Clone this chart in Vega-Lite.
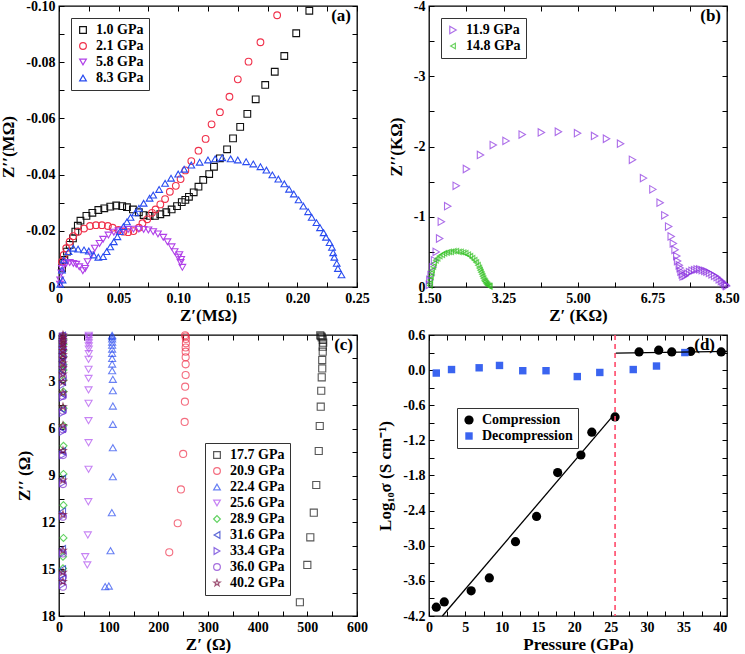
{
  "$schema": "https://vega.github.io/schema/vega-lite/v6.json",
  "padding": {"left": -1, "top": -2, "right": 5, "bottom": 0},
  "background": "white",
  "datasets": {
    "a": [
      {"p":"1.0 GPa","x":0.0025,"y":-0.0066},{"p":"1.0 GPa","x":0.0045,"y":-0.0096},{"p":"1.0 GPa","x":0.0067,"y":-0.0126},{"p":"1.0 GPa","x":0.009,"y":-0.015},{"p":"1.0 GPa","x":0.0117,"y":-0.0173},{"p":"1.0 GPa","x":0.0137,"y":-0.0197},{"p":"1.0 GPa","x":0.0158,"y":-0.0218},{"p":"1.0 GPa","x":0.018,"y":-0.0236},{"p":"1.0 GPa","x":0.023,"y":-0.0253},{"p":"1.0 GPa","x":0.028,"y":-0.0264},{"p":"1.0 GPa","x":0.033,"y":-0.0274},{"p":"1.0 GPa","x":0.038,"y":-0.028},{"p":"1.0 GPa","x":0.043,"y":-0.0286},{"p":"1.0 GPa","x":0.048,"y":-0.029},{"p":"1.0 GPa","x":0.053,"y":-0.0288},{"p":"1.0 GPa","x":0.057,"y":-0.0284},{"p":"1.0 GPa","x":0.062,"y":-0.0276},{"p":"1.0 GPa","x":0.067,"y":-0.0266},{"p":"1.0 GPa","x":0.071,"y":-0.0256},{"p":"1.0 GPa","x":0.076,"y":-0.0253},{"p":"1.0 GPa","x":0.0805,"y":-0.0253},{"p":"1.0 GPa","x":0.085,"y":-0.0259},{"p":"1.0 GPa","x":0.09,"y":-0.0266},{"p":"1.0 GPa","x":0.0945,"y":-0.0276},{"p":"1.0 GPa","x":0.099,"y":-0.0288},{"p":"1.0 GPa","x":0.103,"y":-0.0302},{"p":"1.0 GPa","x":0.106,"y":-0.031},{"p":"1.0 GPa","x":0.109,"y":-0.0321},{"p":"1.0 GPa","x":0.113,"y":-0.0337},{"p":"1.0 GPa","x":0.117,"y":-0.0357},{"p":"1.0 GPa","x":0.121,"y":-0.0381},{"p":"1.0 GPa","x":0.126,"y":-0.0402},{"p":"1.0 GPa","x":0.13,"y":-0.0428},{"p":"1.0 GPa","x":0.135,"y":-0.0458},{"p":"1.0 GPa","x":0.141,"y":-0.049},{"p":"1.0 GPa","x":0.146,"y":-0.0529},{"p":"1.0 GPa","x":0.152,"y":-0.057},{"p":"1.0 GPa","x":0.158,"y":-0.0616},{"p":"1.0 GPa","x":0.165,"y":-0.0668},{"p":"1.0 GPa","x":0.173,"y":-0.0719},{"p":"1.0 GPa","x":0.181,"y":-0.0766},{"p":"1.0 GPa","x":0.189,"y":-0.0822},{"p":"1.0 GPa","x":0.199,"y":-0.0903},{"p":"1.0 GPa","x":0.21,"y":-0.0983},
      {"p":"2.1 GPa","x":0.0025,"y":-0.009},{"p":"2.1 GPa","x":0.004,"y":-0.0114},{"p":"2.1 GPa","x":0.006,"y":-0.0138},{"p":"2.1 GPa","x":0.009,"y":-0.0161},{"p":"2.1 GPa","x":0.012,"y":-0.0181},{"p":"2.1 GPa","x":0.016,"y":-0.0197},{"p":"2.1 GPa","x":0.021,"y":-0.0208},{"p":"2.1 GPa","x":0.026,"y":-0.0217},{"p":"2.1 GPa","x":0.031,"y":-0.022},{"p":"2.1 GPa","x":0.036,"y":-0.022},{"p":"2.1 GPa","x":0.041,"y":-0.0217},{"p":"2.1 GPa","x":0.045,"y":-0.0211},{"p":"2.1 GPa","x":0.05,"y":-0.0203},{"p":"2.1 GPa","x":0.054,"y":-0.0197},{"p":"2.1 GPa","x":0.058,"y":-0.0195},{"p":"2.1 GPa","x":0.0625,"y":-0.0199},{"p":"2.1 GPa","x":0.067,"y":-0.0211},{"p":"2.1 GPa","x":0.07,"y":-0.0227},{"p":"2.1 GPa","x":0.074,"y":-0.0241},{"p":"2.1 GPa","x":0.078,"y":-0.0264},{"p":"2.1 GPa","x":0.081,"y":-0.0276},{"p":"2.1 GPa","x":0.085,"y":-0.0294},{"p":"2.1 GPa","x":0.089,"y":-0.0313},{"p":"2.1 GPa","x":0.093,"y":-0.0339},{"p":"2.1 GPa","x":0.098,"y":-0.036},{"p":"2.1 GPa","x":0.102,"y":-0.0384},{"p":"2.1 GPa","x":0.106,"y":-0.0415},{"p":"2.1 GPa","x":0.111,"y":-0.0448},{"p":"2.1 GPa","x":0.117,"y":-0.0485},{"p":"2.1 GPa","x":0.123,"y":-0.0527},{"p":"2.1 GPa","x":0.128,"y":-0.0579},{"p":"2.1 GPa","x":0.135,"y":-0.0622},{"p":"2.1 GPa","x":0.143,"y":-0.0677},{"p":"2.1 GPa","x":0.15,"y":-0.0739},{"p":"2.1 GPa","x":0.159,"y":-0.0802},{"p":"2.1 GPa","x":0.169,"y":-0.0871},{"p":"2.1 GPa","x":0.183,"y":-0.0967},
      {"p":"5.8 GPa","x":0.0008,"y":-0.001},{"p":"5.8 GPa","x":0.001,"y":-0.0025},{"p":"5.8 GPa","x":0.002,"y":-0.005},{"p":"5.8 GPa","x":0.0025,"y":-0.0066},{"p":"5.8 GPa","x":0.004,"y":-0.0078},{"p":"5.8 GPa","x":0.006,"y":-0.0084},{"p":"5.8 GPa","x":0.009,"y":-0.0087},{"p":"5.8 GPa","x":0.012,"y":-0.0084},{"p":"5.8 GPa","x":0.0145,"y":-0.0081},{"p":"5.8 GPa","x":0.017,"y":-0.0072},{"p":"5.8 GPa","x":0.02,"y":-0.0058},{"p":"5.8 GPa","x":0.022,"y":-0.0066},{"p":"5.8 GPa","x":0.024,"y":-0.009},{"p":"5.8 GPa","x":0.027,"y":-0.0114},{"p":"5.8 GPa","x":0.03,"y":-0.0138},{"p":"5.8 GPa","x":0.034,"y":-0.0155},{"p":"5.8 GPa","x":0.037,"y":-0.017},{"p":"5.8 GPa","x":0.0415,"y":-0.0185},{"p":"5.8 GPa","x":0.046,"y":-0.0195},{"p":"5.8 GPa","x":0.05,"y":-0.02},{"p":"5.8 GPa","x":0.054,"y":-0.0203},{"p":"5.8 GPa","x":0.058,"y":-0.0205},{"p":"5.8 GPa","x":0.0625,"y":-0.0206},{"p":"5.8 GPa","x":0.067,"y":-0.0206},{"p":"5.8 GPa","x":0.071,"y":-0.0205},{"p":"5.8 GPa","x":0.075,"y":-0.0203},{"p":"5.8 GPa","x":0.079,"y":-0.0197},{"p":"5.8 GPa","x":0.083,"y":-0.0189},{"p":"5.8 GPa","x":0.0875,"y":-0.0177},{"p":"5.8 GPa","x":0.091,"y":-0.0161},{"p":"5.8 GPa","x":0.0945,"y":-0.0143},{"p":"5.8 GPa","x":0.097,"y":-0.0126},{"p":"5.8 GPa","x":0.1,"y":-0.0106},{"p":"5.8 GPa","x":0.101,"y":-0.0115},{"p":"5.8 GPa","x":0.102,"y":-0.0087},{"p":"5.8 GPa","x":0.1025,"y":-0.0098},{"p":"5.8 GPa","x":0.1035,"y":-0.007},
      {"p":"8.3 GPa","x":0.001,"y":-0.001},{"p":"8.3 GPa","x":0.003,"y":-0.0025},{"p":"8.3 GPa","x":0.0025,"y":-0.006},{"p":"8.3 GPa","x":0.004,"y":-0.0096},{"p":"8.3 GPa","x":0.008,"y":-0.0126},{"p":"8.3 GPa","x":0.012,"y":-0.0138},{"p":"8.3 GPa","x":0.016,"y":-0.0135},{"p":"8.3 GPa","x":0.021,"y":-0.0132},{"p":"8.3 GPa","x":0.025,"y":-0.0128},{"p":"8.3 GPa","x":0.029,"y":-0.0114},{"p":"8.3 GPa","x":0.033,"y":-0.0106},{"p":"8.3 GPa","x":0.037,"y":-0.0108},{"p":"8.3 GPa","x":0.04,"y":-0.0126},{"p":"8.3 GPa","x":0.043,"y":-0.0143},{"p":"8.3 GPa","x":0.046,"y":-0.0161},{"p":"8.3 GPa","x":0.049,"y":-0.0179},{"p":"8.3 GPa","x":0.051,"y":-0.0197},{"p":"8.3 GPa","x":0.054,"y":-0.0215},{"p":"8.3 GPa","x":0.057,"y":-0.0232},{"p":"8.3 GPa","x":0.06,"y":-0.0248},{"p":"8.3 GPa","x":0.064,"y":-0.0264},{"p":"8.3 GPa","x":0.067,"y":-0.028},{"p":"8.3 GPa","x":0.071,"y":-0.0298},{"p":"8.3 GPa","x":0.076,"y":-0.0316},{"p":"8.3 GPa","x":0.079,"y":-0.0327},{"p":"8.3 GPa","x":0.084,"y":-0.0347},{"p":"8.3 GPa","x":0.089,"y":-0.0369},{"p":"8.3 GPa","x":0.094,"y":-0.0387},{"p":"8.3 GPa","x":0.1,"y":-0.0402},{"p":"8.3 GPa","x":0.105,"y":-0.0419},{"p":"8.3 GPa","x":0.111,"y":-0.0434},{"p":"8.3 GPa","x":0.118,"y":-0.0444},{"p":"8.3 GPa","x":0.125,"y":-0.0452},{"p":"8.3 GPa","x":0.131,"y":-0.0456},{"p":"8.3 GPa","x":0.137,"y":-0.046},{"p":"8.3 GPa","x":0.144,"y":-0.0456},{"p":"8.3 GPa","x":0.15,"y":-0.0452},{"p":"8.3 GPa","x":0.157,"y":-0.0446},{"p":"8.3 GPa","x":0.163,"y":-0.0438},{"p":"8.3 GPa","x":0.169,"y":-0.0428},{"p":"8.3 GPa","x":0.174,"y":-0.0416},{"p":"8.3 GPa","x":0.179,"y":-0.0399},{"p":"8.3 GPa","x":0.184,"y":-0.0384},{"p":"8.3 GPa","x":0.189,"y":-0.0367},{"p":"8.3 GPa","x":0.193,"y":-0.0348},{"p":"8.3 GPa","x":0.197,"y":-0.0331},{"p":"8.3 GPa","x":0.201,"y":-0.031},{"p":"8.3 GPa","x":0.205,"y":-0.0288},{"p":"8.3 GPa","x":0.209,"y":-0.0268},{"p":"8.3 GPa","x":0.212,"y":-0.0248},{"p":"8.3 GPa","x":0.216,"y":-0.0229},{"p":"8.3 GPa","x":0.219,"y":-0.0211},{"p":"8.3 GPa","x":0.222,"y":-0.0193},{"p":"8.3 GPa","x":0.224,"y":-0.0177},{"p":"8.3 GPa","x":0.227,"y":-0.0158},{"p":"8.3 GPa","x":0.229,"y":-0.0141},{"p":"8.3 GPa","x":0.23,"y":-0.0122},{"p":"8.3 GPa","x":0.231,"y":-0.0106},{"p":"8.3 GPa","x":0.233,"y":-0.0084},{"p":"8.3 GPa","x":0.234,"y":-0.0066},{"p":"8.3 GPa","x":0.237,"y":-0.0043}
    ],
    "b": [
      {"p":"11.9 GPa","x":1.51,"y":-0.03},{"p":"11.9 GPa","x":1.52,"y":-0.1},{"p":"11.9 GPa","x":1.55,"y":-0.17},{"p":"11.9 GPa","x":1.59,"y":-0.28},{"p":"11.9 GPa","x":1.63,"y":-0.38},{"p":"11.9 GPa","x":1.67,"y":-0.5},{"p":"11.9 GPa","x":1.75,"y":-0.69},{"p":"11.9 GPa","x":1.79,"y":-0.93},{"p":"11.9 GPa","x":1.94,"y":-1.15},{"p":"11.9 GPa","x":2.14,"y":-1.44},{"p":"11.9 GPa","x":2.38,"y":-1.68},{"p":"11.9 GPa","x":2.71,"y":-1.88},{"p":"11.9 GPa","x":3.01,"y":-2.02},{"p":"11.9 GPa","x":3.31,"y":-2.08},{"p":"11.9 GPa","x":3.69,"y":-2.17},{"p":"11.9 GPa","x":4.14,"y":-2.2},{"p":"11.9 GPa","x":4.54,"y":-2.21},{"p":"11.9 GPa","x":4.99,"y":-2.19},{"p":"11.9 GPa","x":5.39,"y":-2.15},{"p":"11.9 GPa","x":5.67,"y":-2.11},{"p":"11.9 GPa","x":6.0,"y":-2.04},{"p":"11.9 GPa","x":6.28,"y":-1.81},{"p":"11.9 GPa","x":6.54,"y":-1.55},{"p":"11.9 GPa","x":6.76,"y":-1.39},{"p":"11.9 GPa","x":6.93,"y":-1.2},{"p":"11.9 GPa","x":7.04,"y":-1.02},{"p":"11.9 GPa","x":7.13,"y":-0.86},{"p":"11.9 GPa","x":7.19,"y":-0.72},{"p":"11.9 GPa","x":7.24,"y":-0.62},{"p":"11.9 GPa","x":7.28,"y":-0.53},{"p":"11.9 GPa","x":7.32,"y":-0.44},{"p":"11.9 GPa","x":7.34,"y":-0.37},{"p":"11.9 GPa","x":7.38,"y":-0.31},{"p":"11.9 GPa","x":7.4,"y":-0.27},{"p":"11.9 GPa","x":7.42,"y":-0.22},{"p":"11.9 GPa","x":7.45,"y":-0.18},{"p":"11.9 GPa","x":7.47,"y":-0.15},{"p":"11.9 GPa","x":7.52,"y":-0.16},{"p":"11.9 GPa","x":7.57,"y":-0.19},{"p":"11.9 GPa","x":7.62,"y":-0.21},{"p":"11.9 GPa","x":7.68,"y":-0.23},{"p":"11.9 GPa","x":7.74,"y":-0.24},{"p":"11.9 GPa","x":7.8,"y":-0.25},{"p":"11.9 GPa","x":7.86,"y":-0.25},{"p":"11.9 GPa","x":7.92,"y":-0.24},{"p":"11.9 GPa","x":7.98,"y":-0.23},{"p":"11.9 GPa","x":8.03,"y":-0.22},{"p":"11.9 GPa","x":8.09,"y":-0.2},{"p":"11.9 GPa","x":8.15,"y":-0.18},{"p":"11.9 GPa","x":8.21,"y":-0.16},{"p":"11.9 GPa","x":8.27,"y":-0.14},{"p":"11.9 GPa","x":8.32,"y":-0.11},{"p":"11.9 GPa","x":8.37,"y":-0.085},{"p":"11.9 GPa","x":8.41,"y":-0.065},{"p":"11.9 GPa","x":8.45,"y":-0.043},{"p":"11.9 GPa","x":8.48,"y":-0.025},{"p":"11.9 GPa","x":8.49,"y":-0.014},
      {"p":"14.8 GPa","x":1.52,"y":-0.02},{"p":"14.8 GPa","x":1.52,"y":-0.05},{"p":"14.8 GPa","x":1.53,"y":-0.1},{"p":"14.8 GPa","x":1.545,"y":-0.15},{"p":"14.8 GPa","x":1.56,"y":-0.2},{"p":"14.8 GPa","x":1.57,"y":-0.24},{"p":"14.8 GPa","x":1.6,"y":-0.29},{"p":"14.8 GPa","x":1.62,"y":-0.34},{"p":"14.8 GPa","x":1.66,"y":-0.38},{"p":"14.8 GPa","x":1.7,"y":-0.41},{"p":"14.8 GPa","x":1.75,"y":-0.44},{"p":"14.8 GPa","x":1.81,"y":-0.46},{"p":"14.8 GPa","x":1.86,"y":-0.48},{"p":"14.8 GPa","x":1.92,"y":-0.49},{"p":"14.8 GPa","x":1.97,"y":-0.5},{"p":"14.8 GPa","x":2.02,"y":-0.5},{"p":"14.8 GPa","x":2.08,"y":-0.51},{"p":"14.8 GPa","x":2.14,"y":-0.51},{"p":"14.8 GPa","x":2.2,"y":-0.5},{"p":"14.8 GPa","x":2.25,"y":-0.5},{"p":"14.8 GPa","x":2.31,"y":-0.49},{"p":"14.8 GPa","x":2.36,"y":-0.48},{"p":"14.8 GPa","x":2.42,"y":-0.46},{"p":"14.8 GPa","x":2.47,"y":-0.44},{"p":"14.8 GPa","x":2.52,"y":-0.41},{"p":"14.8 GPa","x":2.57,"y":-0.38},{"p":"14.8 GPa","x":2.61,"y":-0.35},{"p":"14.8 GPa","x":2.65,"y":-0.31},{"p":"14.8 GPa","x":2.68,"y":-0.27},{"p":"14.8 GPa","x":2.7,"y":-0.24},{"p":"14.8 GPa","x":2.72,"y":-0.21},{"p":"14.8 GPa","x":2.74,"y":-0.18},{"p":"14.8 GPa","x":2.76,"y":-0.15},{"p":"14.8 GPa","x":2.78,"y":-0.12},{"p":"14.8 GPa","x":2.8,"y":-0.09},{"p":"14.8 GPa","x":2.82,"y":-0.075},{"p":"14.8 GPa","x":2.84,"y":-0.055},{"p":"14.8 GPa","x":2.86,"y":-0.04},{"p":"14.8 GPa","x":2.88,"y":-0.025},{"p":"14.8 GPa","x":2.91,"y":-0.014},{"p":"14.8 GPa","x":2.93,"y":-0.01}
    ],
    "c": [
      {"p":"17.7 GPa","x":526,"y":0.02},{"p":"17.7 GPa","x":528,"y":0.08},{"p":"17.7 GPa","x":529,"y":0.15},{"p":"17.7 GPa","x":531,"y":0.3},{"p":"17.7 GPa","x":532,"y":0.49},{"p":"17.7 GPa","x":531,"y":0.75},{"p":"17.7 GPa","x":531,"y":1.07},{"p":"17.7 GPa","x":530,"y":1.6},{"p":"17.7 GPa","x":530,"y":2.14},{"p":"17.7 GPa","x":529,"y":2.71},{"p":"17.7 GPa","x":528,"y":3.57},{"p":"17.7 GPa","x":527,"y":4.59},{"p":"17.7 GPa","x":525,"y":5.83},{"p":"17.7 GPa","x":523,"y":7.43},{"p":"17.7 GPa","x":518,"y":9.61},{"p":"17.7 GPa","x":513,"y":11.38},{"p":"17.7 GPa","x":506,"y":12.96},{"p":"17.7 GPa","x":500,"y":14.73},{"p":"17.7 GPa","x":485,"y":17.12},
      {"p":"20.9 GPa","x":254,"y":0.02},{"p":"20.9 GPa","x":255,"y":0.1},{"p":"20.9 GPa","x":255.5,"y":0.25},{"p":"20.9 GPa","x":255.5,"y":0.53},{"p":"20.9 GPa","x":255,"y":0.8},{"p":"20.9 GPa","x":255,"y":1.07},{"p":"20.9 GPa","x":255,"y":1.43},{"p":"20.9 GPa","x":255,"y":1.88},{"p":"20.9 GPa","x":255,"y":2.56},{"p":"20.9 GPa","x":254,"y":3.31},{"p":"20.9 GPa","x":253.5,"y":4.27},{"p":"20.9 GPa","x":253,"y":5.57},{"p":"20.9 GPa","x":250,"y":7.62},{"p":"20.9 GPa","x":245.5,"y":9.89},{"p":"20.9 GPa","x":239,"y":12.06},{"p":"20.9 GPa","x":222,"y":13.92},
      {"p":"22.4 GPa","x":107,"y":0.02},{"p":"22.4 GPa","x":107,"y":0.1},{"p":"22.4 GPa","x":107,"y":0.25},{"p":"22.4 GPa","x":107,"y":0.45},{"p":"22.4 GPa","x":107,"y":0.65},{"p":"22.4 GPa","x":107,"y":0.9},{"p":"22.4 GPa","x":107,"y":1.17},{"p":"22.4 GPa","x":107,"y":1.5},{"p":"22.4 GPa","x":107,"y":1.86},{"p":"22.4 GPa","x":107,"y":2.29},{"p":"22.4 GPa","x":108.4,"y":2.84},{"p":"22.4 GPa","x":108.4,"y":3.57},{"p":"22.4 GPa","x":108.4,"y":4.55},{"p":"22.4 GPa","x":108.4,"y":5.72},{"p":"22.4 GPa","x":108.4,"y":7.22},{"p":"22.4 GPa","x":108.4,"y":9.08},{"p":"22.4 GPa","x":106.4,"y":11.38},{"p":"22.4 GPa","x":103.7,"y":13.82},{"p":"22.4 GPa","x":100.3,"y":16.08},{"p":"22.4 GPa","x":93,"y":16.12},
      {"p":"25.6 GPa","x":60,"y":0.02},{"p":"25.6 GPa","x":60,"y":0.1},{"p":"25.6 GPa","x":60,"y":0.2},{"p":"25.6 GPa","x":60,"y":0.35},{"p":"25.6 GPa","x":60,"y":0.5},{"p":"25.6 GPa","x":60,"y":0.7},{"p":"25.6 GPa","x":60,"y":0.9},{"p":"25.6 GPa","x":60,"y":1.2},{"p":"25.6 GPa","x":59.5,"y":1.56},{"p":"25.6 GPa","x":59.5,"y":2.2},{"p":"25.6 GPa","x":59.5,"y":2.78},{"p":"25.6 GPa","x":59.5,"y":3.52},{"p":"25.6 GPa","x":59.5,"y":4.38},{"p":"25.6 GPa","x":59.5,"y":5.49},{"p":"25.6 GPa","x":59.5,"y":6.9},{"p":"25.6 GPa","x":59.5,"y":8.6},{"p":"25.6 GPa","x":59,"y":10.68},{"p":"25.6 GPa","x":58,"y":12.81},{"p":"25.6 GPa","x":52.8,"y":14.2},{"p":"25.6 GPa","x":57,"y":14.73},
      {"p":"28.9 GPa","x":9,"y":0.05},{"p":"28.9 GPa","x":9,"y":0.3},{"p":"28.9 GPa","x":9,"y":0.6},{"p":"28.9 GPa","x":9,"y":1.0},{"p":"28.9 GPa","x":9,"y":1.4},{"p":"28.9 GPa","x":9,"y":1.9},{"p":"28.9 GPa","x":9,"y":2.24},{"p":"28.9 GPa","x":9,"y":2.88},{"p":"28.9 GPa","x":9,"y":3.63},{"p":"28.9 GPa","x":9,"y":4.7},{"p":"28.9 GPa","x":9,"y":5.8},{"p":"28.9 GPa","x":9,"y":7.1},{"p":"28.9 GPa","x":9,"y":8.9},{"p":"28.9 GPa","x":9,"y":10.9},{"p":"28.9 GPa","x":9,"y":13.0},{"p":"28.9 GPa","x":8,"y":14.2},{"p":"28.9 GPa","x":8,"y":14.95},
      {"p":"31.6 GPa","x":7,"y":0.05},{"p":"31.6 GPa","x":7,"y":0.4},{"p":"31.6 GPa","x":7,"y":0.8},{"p":"31.6 GPa","x":7,"y":1.2},{"p":"31.6 GPa","x":7,"y":1.7},{"p":"31.6 GPa","x":7,"y":2.3},{"p":"31.6 GPa","x":7,"y":3.0},{"p":"31.6 GPa","x":7,"y":3.8},{"p":"31.6 GPa","x":7,"y":4.75},{"p":"31.6 GPa","x":7,"y":6.0},{"p":"31.6 GPa","x":7,"y":7.45},{"p":"31.6 GPa","x":7,"y":9.2},{"p":"31.6 GPa","x":7,"y":11.3},{"p":"31.6 GPa","x":7,"y":13.7},{"p":"31.6 GPa","x":7,"y":15.0},{"p":"31.6 GPa","x":7,"y":15.6},
      {"p":"33.4 GPa","x":7,"y":0.1},{"p":"33.4 GPa","x":7,"y":0.5},{"p":"33.4 GPa","x":7,"y":0.9},{"p":"33.4 GPa","x":7,"y":1.4},{"p":"33.4 GPa","x":7,"y":1.9},{"p":"33.4 GPa","x":7,"y":2.5},{"p":"33.4 GPa","x":7,"y":3.2},{"p":"33.4 GPa","x":7,"y":4.0},{"p":"33.4 GPa","x":7,"y":5.0},{"p":"33.4 GPa","x":7,"y":6.2},{"p":"33.4 GPa","x":7,"y":7.7},{"p":"33.4 GPa","x":7,"y":9.5},{"p":"33.4 GPa","x":7,"y":11.6},{"p":"33.4 GPa","x":7,"y":14.0},{"p":"33.4 GPa","x":7,"y":15.4},{"p":"33.4 GPa","x":7,"y":16.0},
      {"p":"36.0 GPa","x":8,"y":0.05},{"p":"36.0 GPa","x":8,"y":0.4},{"p":"36.0 GPa","x":8,"y":0.9},{"p":"36.0 GPa","x":8,"y":1.4},{"p":"36.0 GPa","x":8,"y":2.0},{"p":"36.0 GPa","x":8,"y":2.7},{"p":"36.0 GPa","x":8,"y":3.9},{"p":"36.0 GPa","x":8,"y":4.85},{"p":"36.0 GPa","x":8,"y":6.04},{"p":"36.0 GPa","x":8,"y":7.69},{"p":"36.0 GPa","x":8,"y":9.55},{"p":"36.0 GPa","x":8,"y":11.64},{"p":"36.0 GPa","x":8,"y":13.99},{"p":"36.0 GPa","x":8,"y":15.48},{"p":"36.0 GPa","x":8,"y":16.12},
      {"p":"40.2 GPa","x":8,"y":0.0},{"p":"40.2 GPa","x":8,"y":0.15},{"p":"40.2 GPa","x":8,"y":0.3},{"p":"40.2 GPa","x":8,"y":0.45},{"p":"40.2 GPa","x":8,"y":0.6},{"p":"40.2 GPa","x":8,"y":0.8},{"p":"40.2 GPa","x":8,"y":1.0},{"p":"40.2 GPa","x":8,"y":1.25},{"p":"40.2 GPa","x":8,"y":1.5},{"p":"40.2 GPa","x":8,"y":1.8},{"p":"40.2 GPa","x":8,"y":2.1},{"p":"40.2 GPa","x":8,"y":2.5},{"p":"40.2 GPa","x":8,"y":3.0},{"p":"40.2 GPa","x":8,"y":3.7},{"p":"40.2 GPa","x":8,"y":4.6},{"p":"40.2 GPa","x":8,"y":5.8},{"p":"40.2 GPa","x":8,"y":7.4},{"p":"40.2 GPa","x":8,"y":9.3},{"p":"40.2 GPa","x":8,"y":11.5},{"p":"40.2 GPa","x":8,"y":13.8},{"p":"40.2 GPa","x":8,"y":15.2},{"p":"40.2 GPa","x":8,"y":15.8}
    ],
    "d": [
      {"p":"Compression","x":1.0,"y":-4.05},{"p":"Compression","x":2.1,"y":-3.96},{"p":"Compression","x":5.8,"y":-3.77},{"p":"Compression","x":8.3,"y":-3.55},{"p":"Compression","x":11.9,"y":-2.93},{"p":"Compression","x":14.8,"y":-2.5},{"p":"Compression","x":17.7,"y":-1.75},{"p":"Compression","x":20.9,"y":-1.45},{"p":"Compression","x":22.4,"y":-1.06},{"p":"Compression","x":25.6,"y":-0.8},{"p":"Compression","x":28.9,"y":0.31},{"p":"Compression","x":31.6,"y":0.34},{"p":"Compression","x":33.4,"y":0.31},{"p":"Compression","x":36.0,"y":0.32},{"p":"Compression","x":40.2,"y":0.31},
      {"p":"Decompression","x":1.0,"y":-0.05},{"p":"Decompression","x":3.1,"y":0.01},{"p":"Decompression","x":6.9,"y":0.04},{"p":"Decompression","x":9.7,"y":0.08},{"p":"Decompression","x":12.9,"y":-0.01},{"p":"Decompression","x":16.1,"y":-0.01},{"p":"Decompression","x":20.4,"y":-0.11},{"p":"Decompression","x":23.5,"y":-0.04},{"p":"Decompression","x":28.1,"y":0.01},{"p":"Decompression","x":31.3,"y":0.07},{"p":"Decompression","x":35.2,"y":0.3}
    ],
    "dfit": [
      {"seg":"low","x":1.84,"y":-4.2},{"seg":"low","x":25.6,"y":-0.74},
      {"seg":"high","x":25.7,"y":0.29},{"seg":"high","x":41,"y":0.32}
    ],
    "dvl": [{"x":25.6}]
  },
  "columns": 2,
  "bounds": "flush",
  "spacing": {"row": 48, "column": 72},
  "concat": [
    {
      "width": 298, "height": 281,
      "title": {"text": "(a)", "anchor": "end", "frame": "group", "offset": -26, "dx": -6},
      "data": {"name": "a"},
      "layer": [
        {
          "mark": {"type": "point", "filled": false, "size": 45, "strokeWidth": 1.1, "opacity": 1},
          "encoding": {
            "x": {"field": "x", "type": "quantitative", "scale": {"domain": [0, 0.25], "nice": false, "zero": false},
              "axis": {"title": "Z′(MΩ)", "values": [0,0.025,0.05,0.075,0.1,0.125,0.15,0.175,0.2,0.225,0.25],
                "labelExpr": "round(datum.value*1000) % 50 != 0 ? '' : (datum.value == 0 ? '0' : format(datum.value, '.2f'))"}},
            "y": {"field": "y", "type": "quantitative", "scale": {"domain": [-0.1, 0], "reverse": true, "nice": false, "zero": false},
              "axis": {"title": "Z′′(MΩ)", "values": [-0.1,-0.09,-0.08,-0.07,-0.06,-0.05,-0.04,-0.03,-0.02,-0.01,0],
                "labelExpr": "abs(round(datum.value*100)) % 2 == 1 ? '' : (datum.value == 0 ? '0' : '-' + format(abs(datum.value), '.2f'))"}},
            "color": {"field": "p", "type": "nominal", "scale": {"domain": ["1.0 GPa","2.1 GPa","5.8 GPa","8.3 GPa"], "range": ["#111111","#f0304a","#b040e8","#2a4cf0"]},
              "legend": {"orient": "top-left", "offset": 12}},
            "shape": {"field": "p", "type": "nominal", "scale": {"domain": ["1.0 GPa","2.1 GPa","5.8 GPa","8.3 GPa"], "range": ["square","circle","triangle-down","triangle-up"]},
              "legend": {"orient": "top-left", "offset": 12}}
          }
        },
        {
          "mark": {"type": "point", "opacity": 0},
          "encoding": {
            "x": {"field": "x", "type": "quantitative", "axis": {"orient": "top", "title": null, "labels": false, "values": [0,0.025,0.05,0.075,0.1,0.125,0.15,0.175,0.2,0.225,0.25]}},
            "y": {"field": "y", "type": "quantitative", "axis": {"orient": "right", "title": null, "labels": false, "values": [-0.1,-0.09,-0.08,-0.07,-0.06,-0.05,-0.04,-0.03,-0.02,-0.01,0]}}
          }
        }
      ],
      "resolve": {"axis": {"x": "independent", "y": "independent"}}
    },
    {
      "width": 298, "height": 281,
      "title": {"text": "(b)", "anchor": "end", "frame": "group", "offset": -26, "dx": -6},
      "data": {"name": "b"},
      "layer": [
        {
          "mark": {"type": "point", "filled": false, "strokeWidth": 1.1},
          "encoding": {
            "x": {"field": "x", "type": "quantitative", "scale": {"domain": [1.5, 8.5], "nice": false, "zero": false},
              "axis": {"title": "Z′ (KΩ)", "values": [1.5,2.375,3.25,4.125,5,5.875,6.75,7.625,8.5],
                "labelExpr": "round((datum.value-1.5)/0.875) % 2 == 1 ? '' : format(datum.value, '.2f')"}},
            "y": {"field": "y", "type": "quantitative", "scale": {"domain": [-4, 0], "reverse": true, "nice": false, "zero": false},
              "axis": {"title": "Z′′(KΩ)", "values": [-4,-3.5,-3,-2.5,-2,-1.5,-1,-0.5,0],
                "labelExpr": "abs(round(datum.value*2)) % 2 == 1 ? '' : (datum.value == 0 ? '0' : '-' + format(abs(datum.value), '.0f'))"}},
            "size": {"field": "p", "type": "nominal", "scale": {"domain": ["11.9 GPa","14.8 GPa"], "range": [55, 30]}, "legend": null},
            "color": {"field": "p", "type": "nominal", "scale": {"domain": ["11.9 GPa","14.8 GPa"], "range": ["#8a30e0","#30c020"]},
              "legend": {"orient": "top-left", "offset": 12}},
            "shape": {"field": "p", "type": "nominal", "scale": {"domain": ["11.9 GPa","14.8 GPa"], "range": ["triangle-right","triangle-left"]},
              "legend": {"orient": "top-left", "offset": 12}}
          }
        },
        {
          "mark": {"type": "point", "opacity": 0},
          "encoding": {
            "x": {"field": "x", "type": "quantitative", "axis": {"orient": "top", "title": null, "labels": false, "values": [1.5,2.375,3.25,4.125,5,5.875,6.75,7.625,8.5]}},
            "y": {"field": "y", "type": "quantitative", "axis": {"orient": "right", "title": null, "labels": false, "values": [-4,-3.5,-3,-2.5,-2,-1.5,-1,-0.5,0]}}
          }
        }
      ],
      "resolve": {"axis": {"x": "independent", "y": "independent"}}
    },
    {
      "width": 298, "height": 281,
      "title": {"text": "(c)", "anchor": "end", "frame": "group", "offset": -26, "dx": -4},
      "data": {"name": "c"},
      "layer": [
        {
          "mark": {"type": "point", "filled": false, "size": 50, "strokeWidth": 1.1},
          "encoding": {
            "x": {"field": "x", "type": "quantitative", "scale": {"domain": [0, 600], "nice": false, "zero": false},
              "axis": {"title": "Z′ (Ω)", "values": [0,50,100,150,200,250,300,350,400,450,500,550,600],
                "labelExpr": "datum.value % 100 != 0 ? '' : format(datum.value, 'd')"}},
            "y": {"field": "y", "type": "quantitative", "scale": {"domain": [0, 18], "reverse": true, "nice": false, "zero": false},
              "axis": {"title": "Z′′ (Ω)", "values": [0,1.5,3,4.5,6,7.5,9,10.5,12,13.5,15,16.5,18],
                "labelExpr": "datum.value % 3 != 0 ? '' : format(datum.value, 'd')"}},
            "color": {"field": "p", "type": "nominal", "scale": {"domain": ["17.7 GPa","20.9 GPa","22.4 GPa","25.6 GPa","28.9 GPa","31.6 GPa","33.4 GPa","36.0 GPa","40.2 GPa"], "range": ["#111111","#f0304a","#2a4cf0","#b050f0","#20c020","#2030c8","#6030d8","#8030d0","#7a1040"]},
              "legend": {"orient": "none", "legendX": 146, "legendY": 108}},
            "shape": {"field": "p", "type": "nominal", "scale": {"domain": ["17.7 GPa","20.9 GPa","22.4 GPa","25.6 GPa","28.9 GPa","31.6 GPa","33.4 GPa","36.0 GPa","40.2 GPa"], "range": ["square","circle","triangle-up","triangle-down","diamond","triangle-left","triangle-right","circle","M0,-1L0.235,-0.324L0.951,-0.309L0.38,0.124L0.588,0.809L0,0.4L-0.588,0.809L-0.38,0.124L-0.951,-0.309L-0.235,-0.324Z"]},
              "legend": {"orient": "none", "legendX": 146, "legendY": 108}}
          }
        },
        {
          "mark": {"type": "point", "opacity": 0},
          "encoding": {
            "x": {"field": "x", "type": "quantitative", "axis": {"orient": "top", "title": null, "labels": false, "values": [0,50,100,150,200,250,300,350,400,450,500,550,600]}},
            "y": {"field": "y", "type": "quantitative", "axis": {"orient": "right", "title": null, "labels": false, "values": [0,1.5,3,4.5,6,7.5,9,10.5,12,13.5,15,16.5,18]}}
          }
        }
      ],
      "resolve": {"axis": {"x": "independent", "y": "independent"}}
    },
    {
      "width": 298, "height": 281,
      "title": {"text": "(d)", "anchor": "end", "frame": "group", "offset": -26, "dx": -12},
      "layer": [
        {
          "data": {"name": "d"},
          "mark": {"type": "point", "filled": true, "opacity": 1},
          "encoding": {
            "x": {"field": "x", "type": "quantitative", "scale": {"domain": [0, 41], "nice": false, "zero": false},
              "axis": {"title": "Pressure (GPa)", "values": [0,2.5,5,7.5,10,12.5,15,17.5,20,22.5,25,27.5,30,32.5,35,37.5,40],
                "labelExpr": "datum.value % 5 != 0 ? '' : format(datum.value, 'd')"}},
            "y": {"field": "y", "type": "quantitative", "scale": {"domain": [-4.2, 0.6], "nice": false, "zero": false},
              "axis": {"title": "Log₁₀σ (S cm⁻¹)", "values": [-4.2,-3.9,-3.6,-3.3,-3,-2.7,-2.4,-2.1,-1.8,-1.5,-1.2,-0.9,-0.6,-0.3,0,0.3,0.6],
                "labelExpr": "round((datum.value+4.2)/0.3) % 2 == 1 ? '' : ((datum.value < -0.001 ? '-' : '') + format(abs(datum.value), '.1f'))"}},
            "size": {"field": "p", "type": "nominal", "scale": {"domain": ["Compression","Decompression"], "range": [85, 55]}, "legend": null},
            "color": {"field": "p", "type": "nominal", "scale": {"domain": ["Compression","Decompression"], "range": ["#000000","#3a64f0"]},
              "legend": {"orient": "none", "legendX": 28, "legendY": 73}},
            "shape": {"field": "p", "type": "nominal", "scale": {"domain": ["Compression","Decompression"], "range": ["circle","square"]},
              "legend": {"orient": "none", "legendX": 28, "legendY": 73}}
          }
        },
        {
          "data": {"name": "d"},
          "mark": {"type": "point", "opacity": 0},
          "encoding": {
            "x": {"field": "x", "type": "quantitative", "axis": {"orient": "top", "title": null, "labels": false, "values": [0,2.5,5,7.5,10,12.5,15,17.5,20,22.5,25,27.5,30,32.5,35,37.5,40]}},
            "y": {"field": "y", "type": "quantitative", "axis": {"orient": "right", "title": null, "labels": false, "values": [-4.2,-3.9,-3.6,-3.3,-3,-2.7,-2.4,-2.1,-1.8,-1.5,-1.2,-0.9,-0.6,-0.3,0,0.3,0.6]}}
          }
        },
        {
          "data": {"name": "dvl"},
          "mark": {"type": "rule", "color": "#ff4a6a", "strokeDash": [5, 4], "strokeWidth": 1.6},
          "encoding": {"x": {"field": "x", "type": "quantitative", "axis": null}}
        },
        {
          "data": {"name": "dfit"},
          "mark": {"type": "line", "color": "#000000", "strokeWidth": 1.3},
          "encoding": {
            "x": {"field": "x", "type": "quantitative", "axis": null},
            "y": {"field": "y", "type": "quantitative", "axis": null},
            "detail": {"field": "seg", "type": "nominal"}
          }
        }
      ],
      "resolve": {"axis": {"x": "independent", "y": "independent"}}
    }
  ],
  "resolve": {"scale": {"color": "independent", "shape": "independent", "size": "independent"}, "legend": {"color": "independent", "shape": "independent"}},
  "config": {
    "font": "Liberation Serif",
    "view": {"stroke": "#000000", "strokeWidth": 1.3},
    "axis": {
      "labelFont": "Liberation Serif", "labelFontWeight": "bold", "labelFontSize": 14, "labelColor": "#000000",
      "titleFont": "Liberation Serif", "titleFontWeight": "bold", "titleFontSize": 17, "titleColor": "#000000",
      "domain": false, "grid": false, "tickSize": -5, "tickColor": "#000000", "tickWidth": 1,
      "labelPadding": 9, "labelOverlap": false, "labelBound": false, "labelFlush": false
    },
    "axisX": {"titlePadding": 2},
    "axisY": {"titlePadding": 8},
    "legend": {
      "title": null, "labelFont": "Liberation Serif", "labelFontWeight": "bold", "labelFontSize": 14, "labelColor": "#000000",
      "strokeColor": "#333333", "fillColor": "#ffffff", "padding": 5, "rowPadding": 2, "symbolStrokeWidth": 1.2, "symbolSize": 45, "labelOffset": 6
    },
    "title": {"font": "Liberation Serif", "fontWeight": "bold", "fontSize": 17, "color": "#000000"}
  }
}
